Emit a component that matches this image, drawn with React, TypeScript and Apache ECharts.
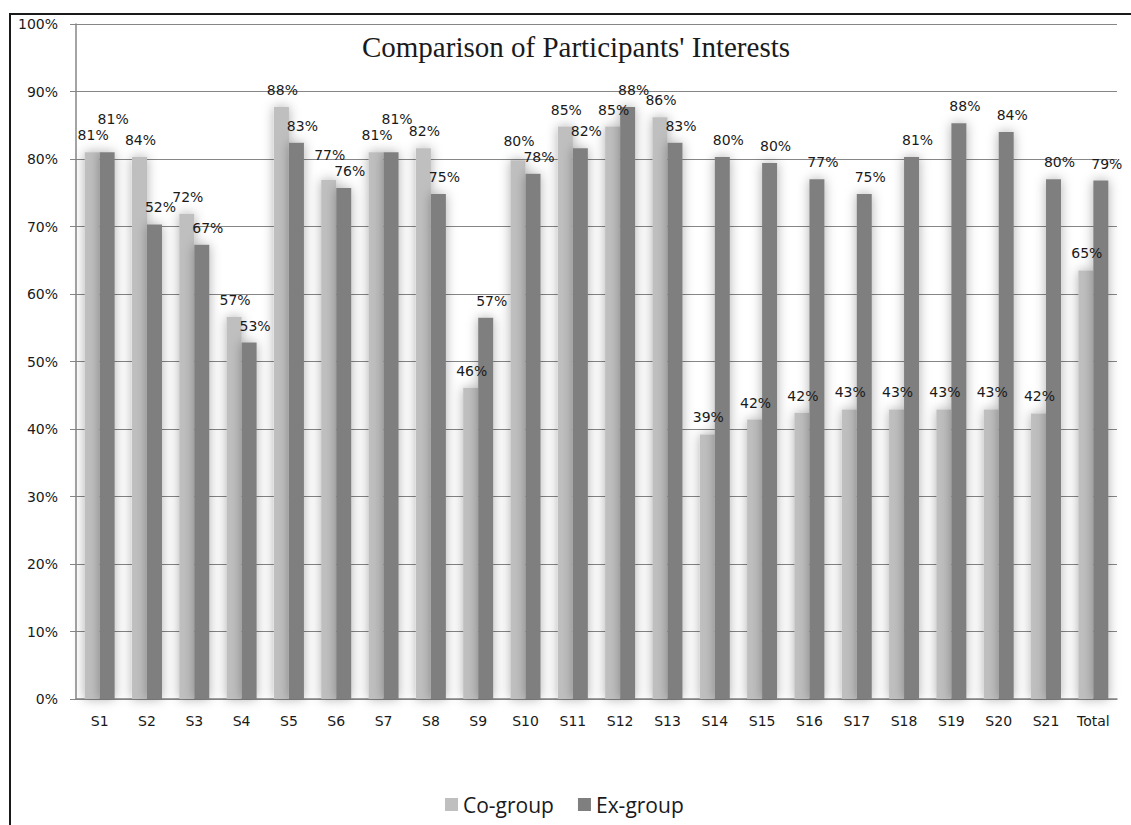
import React, { useEffect, useRef } from "react";
import * as echarts from "echarts";

const categories = ["S1","S2","S3","S4","S5","S6","S7","S8","S9","S10","S11","S12","S13","S14","S15","S16","S17","S18","S19","S20","S21","Total"];
// bar heights as drawn (percent)
const coGroup = [81.0, 80.3, 71.9, 56.6, 87.7, 76.9, 81.0, 81.6, 46.1, 79.8, 84.8, 84.8, 86.2, 39.2, 41.4, 42.4, 42.9, 42.9, 42.9, 42.9, 42.3, 63.5];
const exGroup = [81.0, 70.3, 67.3, 52.8, 82.4, 75.7, 81.0, 74.8, 56.5, 77.8, 81.6, 87.7, 82.4, 80.3, 79.4, 77.0, 74.8, 80.3, 85.3, 84.0, 77.0, 76.8];
// data labels as printed
const coLabels = [81, 84, 72, 57, 88, 77, 81, 82, 46, 80, 85, 85, 86, 39, 42, 42, 43, 43, 43, 43, 42, 65];
const exLabels = [81, 52, 67, 53, 83, 76, 81, 75, 57, 78, 82, 88, 83, 80, 80, 77, 75, 81, 88, 84, 80, 79];
const yTicks = [0, 10, 20, 30, 40, 50, 60, 70, 80, 90, 100];

const labelFont = "DejaVu Sans";

export default function App() {
  const ref = useRef<HTMLDivElement>(null);
  useEffect(() => {
    if (!ref.current) return;
    const chart = echarts.init(ref.current, null, { renderer: "svg" });
    const shadow = { shadowBlur: 12, shadowColor: "rgba(0,0,0,0.32)", shadowOffsetX: 0, shadowOffsetY: 0 };

    // plot height in px per percent (grid top 24, bottom 126 on an 825px canvas)
    const pxPer = (825 - 24 - 126) / (yTicks[yTicks.length - 1] - yTicks[0]);
    const baseDist = 10;
    const minSep = 16;
    const coData = coGroup.map((v, i) => {
      const gap = (v - exGroup[i]) * pxPer;
      const d = v > exGroup[i] && gap < minSep ? baseDist + (minSep - gap) : baseDist;
      return { value: v, label: { distance: d } };
    });
    const exData = exGroup.map((v, i) => {
      const gap = (v - coGroup[i]) * pxPer;
      const d = v >= coGroup[i] && gap < minSep ? baseDist + (minSep - gap) : baseDist;
      return { value: v, label: { distance: d } };
    });

    chart.setOption({
      animation: false,
      backgroundColor: "#ffffff",
      title: {
        text: "Comparison of Participants' Interests",
        left: 571,
        top: 27,
        textAlign: "center",
        textStyle: { fontFamily: "Liberation Serif", fontSize: 29, fontWeight: "normal", color: "#1a1a1a" },
      },
      graphic: [
        {
          type: "rect",
          shape: { x: 10, y: 14, width: 1200, height: 900 },
          style: { fill: "none", stroke: "#1a1a1a", lineWidth: 2 },
          silent: true,
        },
      ],
      legend: {
        left: 440,
        top: 789,
        itemWidth: 13,
        itemHeight: 13,
        itemGap: 24,
        icon: "rect",
        textStyle: { fontFamily: "Open Sans", fontSize: 21, color: "#1a1a1a" },
        data: ["Co-group", "Ex-group"],
      },
      grid: { left: 76, right: 14, top: 24, bottom: 126, containLabel: false },
      xAxis: {
        type: "category",
        data: categories,
        axisLine: { lineStyle: { color: "#868686", width: 1.5 } },
        axisTick: { show: false },
        axisLabel: { fontFamily: labelFont, fontSize: 14, color: "#1a1a1a", margin: 15, interval: 0 },
      },
      yAxis: {
        type: "value",
        min: yTicks[0],
        max: yTicks[yTicks.length - 1],
        interval: 10,
        axisLine: { show: true, lineStyle: { color: "#868686", width: 1.5 } },
        axisTick: { show: true, length: 6, lineStyle: { color: "#868686" } },
        splitLine: { lineStyle: { color: "#868686", width: 1 } },
        axisLabel: { fontFamily: labelFont, fontSize: 14, color: "#1a1a1a", margin: 18, formatter: "{value}%" },
      },
      series: [
        {
          name: "Co-group",
          type: "bar",
          data: coData,
          barWidth: 15,
          barGap: "0%",
          itemStyle: { color: "#bfbfbf", ...shadow },
          label: {
            show: true,
            position: "top",
            offset: [1, 0],
            fontFamily: labelFont,
            fontSize: 14,
            color: "#1a1a1a",
            formatter: (p: any) => coLabels[p.dataIndex] + "%",
          },
        },
        {
          name: "Ex-group",
          type: "bar",
          data: exData,
          barWidth: 15,
          itemStyle: { color: "#7f7f7f", ...shadow },
          label: {
            show: true,
            position: "top",
            offset: [6, 0],
            fontFamily: labelFont,
            fontSize: 14,
            color: "#1a1a1a",
            formatter: (p: any) => exLabels[p.dataIndex] + "%",
          },
        },
      ],
    });
    return () => chart.dispose();
  }, []);
  return <div ref={ref} style={{ position: "fixed", left: 0, top: 0, width: 1131, height: 825 }} />;
}
